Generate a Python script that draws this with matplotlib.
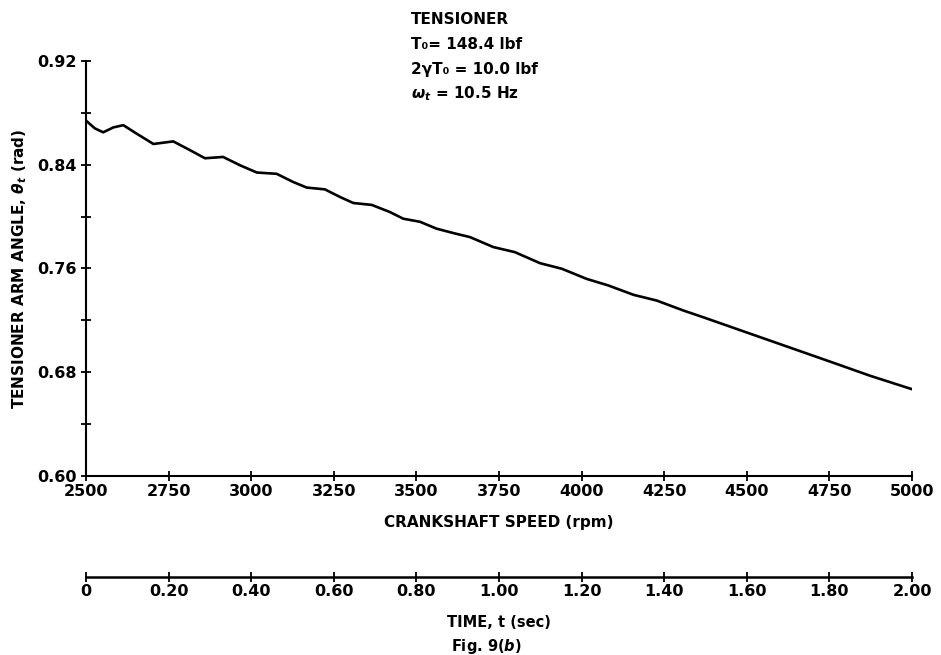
import matplotlib
matplotlib.use("Agg")
import matplotlib.pyplot as plt
from matplotlib.ticker import MultipleLocator

# curve (crankshaft speed, arm angle)
speed_rpm = [2500, 2527, 2552, 2583, 2613, 2653, 2704, 2734, 2764, 2815,
             2860, 2915, 2966, 3017, 3077, 3127, 3168, 3223, 3269, 3309,
             3365, 3420, 3460, 3511, 3561, 3612, 3662, 3733, 3798, 3874,
             3940, 4015, 4081, 4157, 4227, 4308, 4368, 4469, 4570, 4671,
             4772, 4873, 4999]
theta_rad = [0.874, 0.868, 0.865, 0.8688, 0.8705, 0.864, 0.856, 0.857, 0.858, 0.8512,
             0.845, 0.846, 0.8396, 0.834, 0.833, 0.8267, 0.8224, 0.821, 0.8151, 0.8105,
             0.809, 0.8035, 0.7984, 0.796, 0.7907, 0.7873, 0.7842, 0.7765, 0.7726, 0.7641,
             0.7598, 0.752, 0.7469, 0.7397, 0.7353, 0.7276, 0.7224, 0.7134, 0.7044, 0.6954,
             0.6864, 0.6773, 0.667]

x_ticks = [2500, 2750, 3000, 3250, 3500, 3750, 4000, 4250, 4500, 4750, 5000]
y_ticks = [0.60, 0.68, 0.76, 0.84, 0.92]
time_ticks = [0, 0.2, 0.4, 0.6, 0.8, 1.0, 1.2, 1.4, 1.6, 1.8, 2.0]
time_labels = ["0", "0.20", "0.40", "0.60", "0.80", "1.00", "1.20", "1.40", "1.60", "1.80", "2.00"]

notes = ["TENSIONER", "T\u2080= 148.4 lbf", "2\u03b3T\u2080 = 10.0 lbf", r"$\omega_t$ = 10.5 Hz"]

plt.rcParams["font.family"] = "DejaVu Sans"
plt.rcParams["font.weight"] = "bold"
plt.rcParams["axes.labelweight"] = "bold"

fig = plt.figure(figsize=(9.41, 6.55), dpi=100)
ax = fig.add_axes([0.0914, 0.2733, 0.8778, 0.6336])

ax.plot(speed_rpm, theta_rad, color="black", lw=1.9, solid_joinstyle="round")

ax.set_xlim(2500, 5000)
ax.set_ylim(0.60, 0.92)
ax.set_xticks(x_ticks)
ax.set_yticks(y_ticks)
ax.set_yticklabels(["%.2f" % v for v in y_ticks])
ax.yaxis.set_minor_locator(MultipleLocator(0.04))

for side in ["top", "right"]:
    ax.spines[side].set_visible(False)
for side in ["left", "bottom"]:
    ax.spines[side].set_linewidth(1.5)

ax.tick_params(which="both", direction="inout", length=7, width=1.3, labelsize=11.5, pad=3)
ax.tick_params(axis="x", pad=2)

ax.set_xlabel("CRANKSHAFT SPEED (rpm)", fontsize=11, labelpad=12)
ax.set_ylabel(r"TENSIONER ARM ANGLE, $\theta_t$ (rad)", fontsize=11, labelpad=6)

# time scale underneath (t = (rpm - 2500) / 1250)
sec = ax.secondary_xaxis(-0.243, functions=(lambda r: (r - 2500) / 1250.0,
                                            lambda t: t * 1250.0 + 2500))
sec.set_xticks(time_ticks)
sec.set_xticklabels(time_labels)
sec.spines["bottom"].set_linewidth(1.8)
sec.tick_params(direction="inout", length=7, width=1.3, labelsize=11.5, pad=2)
sec.set_xlabel("TIME, t (sec)", fontsize=10.5, labelpad=11)

y0 = 1 - 20 / 655.0
for i, line in enumerate(notes):
    fig.text(0.437, y0 - i * 24.5 / 655.0, line, fontsize=11, ha="left", va="center")

fig.text(0.517, 1 - 647 / 655.0, r"Fig. 9($\mathit{b}$)", fontsize=10.5,
         ha="center", va="center")

fig.savefig("out.png", dpi=100)
